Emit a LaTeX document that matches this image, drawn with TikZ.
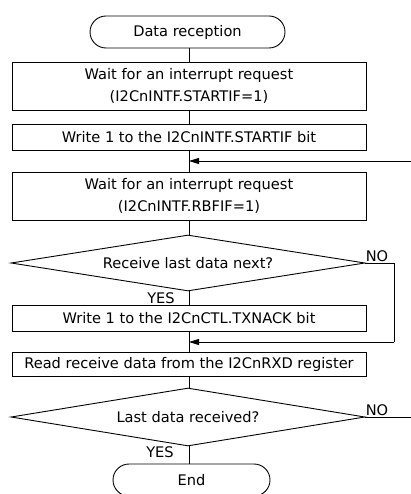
\documentclass[tikz,border=0pt]{standalone}
\usepackage{fontspec}
\setmainfont{DejaVu Sans}
\usetikzlibrary{shapes.geometric,arrows.meta}
\begin{document}
\begin{tikzpicture}[x=1pt,y=-1pt,
  every node/.style={font=\fontsize{14.6}{22}\selectfont},
  line/.style={draw=black,line width=0.9pt},
  arr/.style={line,-{Triangle[length=10pt,width=6pt]}},
  term/.style={line,rounded corners=16pt,minimum width=195pt,minimum height=32pt,inner sep=0pt},
  procbox/.style={line,minimum width=354pt,inner sep=0pt,align=center},
  decision/.style={line,diamond,aspect=6,minimum width=354pt,minimum height=56pt,inner sep=0pt},
  lbl/.style={inner sep=0pt}]
\useasboundingbox (0,0) rectangle (411,494);
\node[term] (start) at (187.5,32) {Data reception};
\node[procbox,minimum height=48pt] (box1) at (189,86) {Wait for an interrupt request\\(I2CnINTF.STARTIF=1)};
\node[procbox,minimum height=26pt] (box2) at (189,137) {Write 1 to the I2CnINTF.STARTIF bit};
\node[procbox,minimum height=48pt] (box3) at (189,196) {Wait for an interrupt request\\(I2CnINTF.RBFIF=1)};
\node[decision] (d1) at (188,263) {Receive last data next?};
\node[procbox,minimum height=26pt] (box4) at (189,318) {Write 1 to the I2CnCTL.TXNACK bit};
\node[procbox,minimum height=24pt] (box5) at (189,364) {Read receive data from the I2CnRXD register};
\node[decision,minimum height=58pt] (d2) at (188,417) {Last data received?};
\node[term,minimum width=157pt] (stop) at (191.5,480) {End};
\node[lbl] (no1) at (377,256) {NO};
\node[lbl] (yes1) at (161,298) {YES};
\node[lbl] (no2) at (377,410) {NO};
\node[lbl] (yes2) at (160,452) {YES};
\coordinate (loopin) at (411,161);
\coordinate (nocorner) at (394,342);
\coordinate (exit) at (411,417);
\draw[line] (box1.north |- start.south) -- (box1.north);
\draw[line] (box1.south) -- (box2.north);
\draw[line] (box2.south) -- (box3.north);
\draw[arr] (loopin) -- (loopin -| box3.north);
\draw[line] (box3.south) -- (box3.south |- d1.north);
\draw[line] (box4.north |- d1.south) -- (box4.north);
\draw[line] (d1.east) -| (nocorner);
\draw[arr] (nocorner) -- (nocorner -| box5.north);
\draw[line] (box4.south) -- (box5.north);
\draw[line] (box5.south) -- (box5.south |- d2.north);
\draw[line] (d2.east) -- (exit);
\draw[line] (box5.south |- d2.south) -- (box5.south |- stop.north);
\end{tikzpicture}
\end{document}
